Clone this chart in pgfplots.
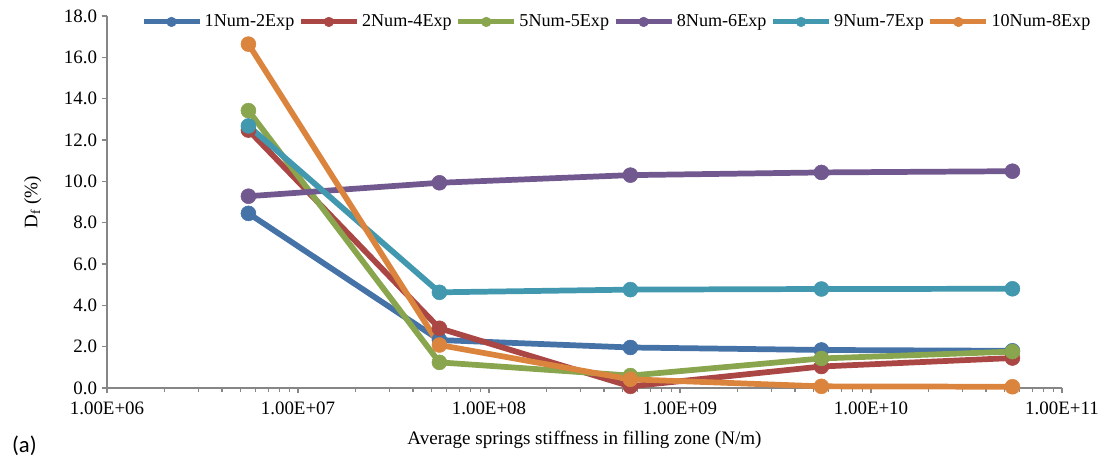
\documentclass[border=0pt]{standalone}
\usepackage{pgfplots}
\pgfplotsset{compat=1.18}
\usepackage{fontspec}
\setmainfont{Liberation Serif}
\newfontfamily\calibri{Carlito}
\definecolor{cA}{HTML}{4572A7}
\definecolor{cB}{HTML}{AA4643}
\definecolor{cC}{HTML}{89A54E}
\definecolor{cD}{HTML}{71588F}
\definecolor{cE}{HTML}{4198AF}
\definecolor{cF}{HTML}{DB843D}
\definecolor{axgray}{HTML}{868686}
\begin{document}
\begin{tikzpicture}
\useasboundingbox (-80.25pt,-53.25pt) rectangle (752.25pt,291pt);
\begin{axis}[
  at={(0pt,0pt)}, anchor=south west,
  scale only axis, width=716.25pt, height=279pt,
  xmode=log, xmin=1e6, xmax=1e11, ymin=0, ymax=18,
  axis x line*=bottom, axis y line*=left,
  axis line style={axgray, line width=1.1pt, -},
  xtick={1e6,1e7,1e8,1e9,1e10,1e11},
  xticklabels={1.00E+06,1.00E+07,1.00E+08,1.00E+09,1.00E+10,1.00E+11},
  ytick={0,2,...,18},
  minor xtick={},
  yticklabel style={/pgf/number format/.cd, fixed, fixed zerofill, precision=1, assume math mode=true},
  ticklabel style={font=\fontsize{14.2}{16}\selectfont, text=black},
  xticklabel style={yshift=-3pt},
  tick style={axgray, line width=0.9pt},
  tick align=outside, major tick length=4pt,
  xlabel={Average springs stiffness in filling zone (N/m)},
  ylabel={D\textsubscript{f} (\%)},
  label style={font=\fontsize{14.3}{16}\selectfont},
  xlabel style={yshift=-5pt},
  ylabel style={yshift=10pt},
  every axis plot/.append style={line width=4.3pt, mark=*, mark size=5.6pt, line join=round},
  legend style={draw=none, fill=none, legend columns=-1, at={(0.534,0.984)}, anchor=center,
    font=\fontsize{13.6}{15}\selectfont,
    /tikz/every odd column/.append style={column sep=0pt},
    /tikz/every even column/.append style={column sep=1pt}},
  legend image code/.code={\draw[#1, mark size=3.6pt, line width=3.8pt, mark repeat=2, mark phase=2] plot coordinates {(0pt,0pt) (21pt,0pt) (42pt,0pt)};},
  clip=false,
]
\addplot[cA, mark options={fill=cA, draw=cA, line width=0.4pt}] coordinates {(5.5e6,8.45) (5.5e7,2.32) (5.5e8,1.96) (5.5e9,1.84) (5.5e10,1.8)};
\addlegendentry{1Num-2Exp}
\addplot[cB, mark options={fill=cB, draw=cB, line width=0.4pt}] coordinates {(5.5e6,12.48) (5.5e7,2.89) (5.5e8,0.08) (5.5e9,1.04) (5.5e10,1.45)};
\addlegendentry{2Num-4Exp}
\addplot[cC, mark options={fill=cC, draw=cC, line width=0.4pt}] coordinates {(5.5e6,13.42) (5.5e7,1.24) (5.5e8,0.6) (5.5e9,1.43) (5.5e10,1.76)};
\addlegendentry{5Num-5Exp}
\addplot[cD, mark options={fill=cD, draw=cD, line width=0.4pt}] coordinates {(5.5e6,9.28) (5.5e7,9.93) (5.5e8,10.3) (5.5e9,10.43) (5.5e10,10.49)};
\addlegendentry{8Num-6Exp}
\addplot[cE, mark options={fill=cE, draw=cE, line width=0.4pt}] coordinates {(5.5e6,12.68) (5.5e7,4.63) (5.5e8,4.76) (5.5e9,4.79) (5.5e10,4.8)};
\addlegendentry{9Num-7Exp}
\addplot[cF, mark options={fill=cF, draw=cF, line width=0.4pt}] coordinates {(5.5e6,16.64) (5.5e7,2.08) (5.5e8,0.42) (5.5e9,0.08) (5.5e10,0.06)};
\addlegendentry{10Num-8Exp}
\end{axis}
\node[font=\calibri\fontsize{17}{19}\selectfont] at (-62pt,-43.5pt) {(a)};
\end{tikzpicture}
\end{document}
